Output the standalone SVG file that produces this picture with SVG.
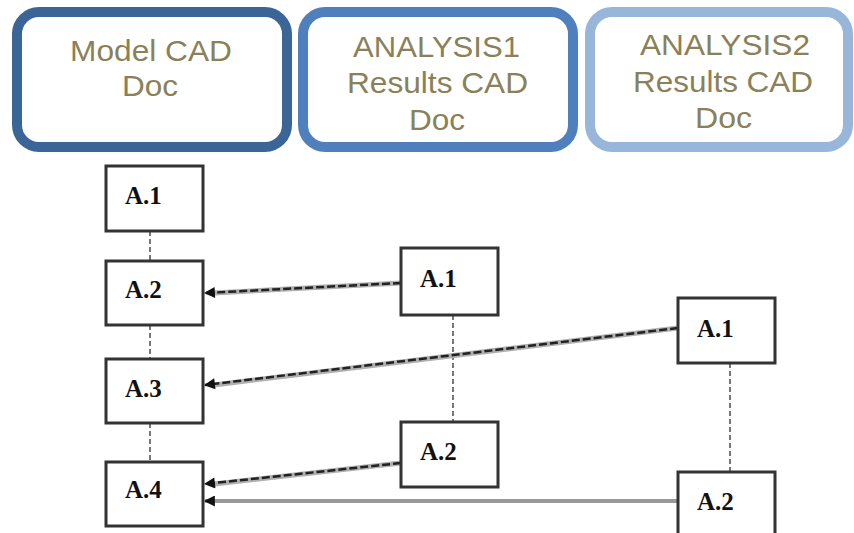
<svg xmlns="http://www.w3.org/2000/svg" width="854" height="533" viewBox="0 0 854 533">
<defs>
<marker id="ah" viewBox="0 0 10 10" refX="9" refY="5" markerWidth="12" markerHeight="11" markerUnits="userSpaceOnUse" orient="auto">
<path d="M0,0 L10,5 L0,10 Z" fill="#111"/>
</marker>
</defs>
<style>
.hdr{fill:#fff;stroke-width:10}
.ht{font-family:"Liberation Sans",Arial,sans-serif;fill:#8a8158}
.nb{fill:#fff;stroke:#333;stroke-width:3}
.nt{font-family:"Liberation Serif","Times New Roman",serif;font-weight:bold;font-size:25px;fill:#111}
.vd{stroke:#777;stroke-width:2;stroke-dasharray:5 3;fill:none}
.ab{stroke:#b0b0b0;stroke-width:5;fill:none}
.af{stroke:#222;stroke-width:2.5;stroke-dasharray:8 3;fill:none}
.as{stroke:#999;stroke-width:4;fill:none}
</style>
<g id="hdr-model">
<rect class="hdr" x="17" y="12" width="270" height="135" rx="22" stroke="#3b6597"/>
<text class="ht" font-size="30" x="70" y="61" textLength="162" lengthAdjust="spacingAndGlyphs">Model CAD</text>
<text class="ht" font-size="30" x="122" y="96" textLength="56" lengthAdjust="spacingAndGlyphs">Doc</text>
</g>
<g id="hdr-analysis1">
<rect class="hdr" x="303" y="12" width="270" height="135" rx="22" stroke="#4f80bd"/>
<text class="ht" font-size="29" x="353" y="57" textLength="167" lengthAdjust="spacingAndGlyphs">ANALYSIS1</text>
<text class="ht" font-size="29" x="347" y="93" textLength="181" lengthAdjust="spacingAndGlyphs">Results CAD</text>
<text class="ht" font-size="29" x="409" y="130" textLength="56" lengthAdjust="spacingAndGlyphs">Doc</text>
</g>
<g id="hdr-analysis2">
<rect class="hdr" x="590" y="12" width="258" height="135" rx="22" stroke="#98b5da"/>
<text class="ht" font-size="29" x="640" y="55" textLength="170" lengthAdjust="spacingAndGlyphs">ANALYSIS2</text>
<text class="ht" font-size="29" x="633" y="92" textLength="180" lengthAdjust="spacingAndGlyphs">Results CAD</text>
<text class="ht" font-size="29" x="695" y="128" textLength="57" lengthAdjust="spacingAndGlyphs">Doc</text>
</g>
<g id="connectors">
<line class="vd" x1="150" y1="231" x2="150" y2="261"/>
<line class="vd" x1="150" y1="325" x2="150" y2="359"/>
<line class="vd" x1="150" y1="423" x2="150" y2="462"/>
<line class="vd" x1="453" y1="315" x2="453" y2="422"/>
<line class="vd" x1="730" y1="363" x2="730" y2="472"/>
<line class="ab" x1="401" y1="283" x2="214" y2="293"/>
<line class="af" x1="401" y1="283" x2="205" y2="293" marker-end="url(#ah)"/>
<line class="ab" x1="678" y1="328" x2="214" y2="385"/>
<line class="af" x1="678" y1="328" x2="205" y2="385" marker-end="url(#ah)"/>
<line class="ab" x1="401" y1="463" x2="214" y2="484"/>
<line class="af" x1="401" y1="463" x2="205" y2="484" marker-end="url(#ah)"/>
<line class="as" x1="678" y1="501" x2="205" y2="501" marker-end="url(#ah)"/>
</g>
<g id="m-a1"><rect class="nb" x="106" y="166" width="97" height="65"/><text class="nt" x="125" y="204">A.1</text></g>
<g id="m-a2"><rect class="nb" x="106" y="261" width="97" height="64"/><text class="nt" x="125" y="298">A.2</text></g>
<g id="m-a3"><rect class="nb" x="106" y="359" width="97" height="64"/><text class="nt" x="125" y="397">A.3</text></g>
<g id="m-a4"><rect class="nb" x="106" y="462" width="97" height="64"/><text class="nt" x="125" y="498">A.4</text></g>
<g id="r1-a1"><rect class="nb" x="401" y="248" width="97" height="67"/><text class="nt" x="420" y="287">A.1</text></g>
<g id="r1-a2"><rect class="nb" x="401" y="422" width="97" height="65"/><text class="nt" x="420" y="460">A.2</text></g>
<g id="r2-a1"><rect class="nb" x="678" y="298" width="97" height="65"/><text class="nt" x="697" y="337">A.1</text></g>
<g id="r2-a2"><rect class="nb" x="678" y="472" width="97" height="66"/><text class="nt" x="697" y="510">A.2</text></g>
</svg>
